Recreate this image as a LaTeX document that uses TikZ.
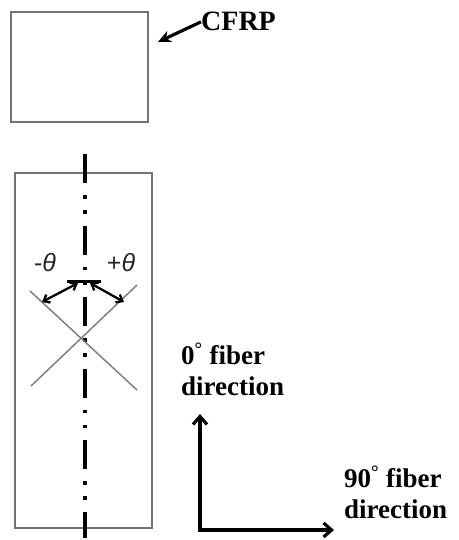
\documentclass[tikz,border=0pt]{standalone}
\usepackage{fontspec}
\setmainfont{Liberation Serif}
\newfontfamily\thetafont{Liberation Sans}
\usetikzlibrary{arrows.meta}
\begin{document}
\begin{tikzpicture}[x=1pt,y=-1pt,
  specbox/.style={draw=black!55, line width=2pt, inner sep=0pt, outer sep=0pt},
  centerline/.style={line width=3.6pt, dash pattern=on 29pt off 12pt on 3.5pt off 11.5pt on 3.5pt off 12pt},
  xline/.style={draw=black!50, line width=1.5pt},
  anglearrow/.style={line width=2.3pt, {Straight Barb[length=5.5pt,width=9pt]}-{Straight Barb[length=5.5pt,width=9pt]}},
  thlabel/.style={font=\thetafont\fontsize{25}{29}\selectfont, inner sep=0pt, text=black!85},
  boldlabel/.style={font=\bfseries\fontsize{28}{32}\selectfont, inner sep=0pt},
  dirlabel/.style={font=\bfseries\fontsize{27}{31}\selectfont, inner sep=0pt, align=left},
  thickarrow/.style={line width=3.2pt, -{Stealth[length=13pt,width=12pt]}},
  axisarrow/.style={line width=3.2pt, line join=miter, {Straight Barb[length=8pt,width=14pt]}-{Straight Barb[length=8pt,width=14pt]}}
]
\useasboundingbox[fill=white] (0,0) rectangle (458,540);
% CFRP box
\node[specbox, minimum width=137pt, minimum height=110pt] (cfrp) at (79.5,67.5) {};
% specimen
\node[specbox, minimum width=137pt, minimum height=355pt] (spec) at (83.5,350.5) {};
% center line
\coordinate (ctop) at (85,154);
\coordinate (cbot) at (85,538);
\draw[centerline] (ctop) -- (cbot);
% X lines
\coordinate (a1) at (30,291);
\coordinate (a2) at (137,390);
\coordinate (b1) at (31,386);
\coordinate (b2) at (137,285);
\draw[xline] (a1) -- (a2);
\draw[xline] (b1) -- (b2);
% angle arrows
\coordinate (la) at (42,302);
\coordinate (apl) at (78,283);
\coordinate (apr) at (90,283);
\coordinate (ra) at (124,302);
\coordinate (bar1) at (67,281.5);
\coordinate (bar2) at (101,281.5);
\draw[line width=2.3pt] (bar1) -- (bar2);
\draw[anglearrow] (la) -- (apl);
\draw[anglearrow] (apr) -- (ra);
\node[thlabel] (mth) at (45,263) {-\textit{θ}};
\node[thlabel] (pth) at (121,263) {+\textit{θ}};
% CFRP label
\node[boldlabel, anchor=base west] (cfrplab) at (201,31) {CFRP};
\coordinate (cfrptip) at (158,42);
\draw[thickarrow] (cfrplab.west) -- (cfrptip);
% axes
\coordinate (orig) at (200,530);
\coordinate (yup) at (200,414);
\coordinate (xright) at (334,530);
\draw[axisarrow] (yup) -- (orig) -- (xright);
\node[dirlabel, anchor=north west] (zerolab) at (181,343) {0\textsuperscript{°} fiber\\direction};
\node[dirlabel, anchor=north west] (ninetylab) at (344,466) {90\textsuperscript{°} fiber\\direction};
\end{tikzpicture}
\end{document}
